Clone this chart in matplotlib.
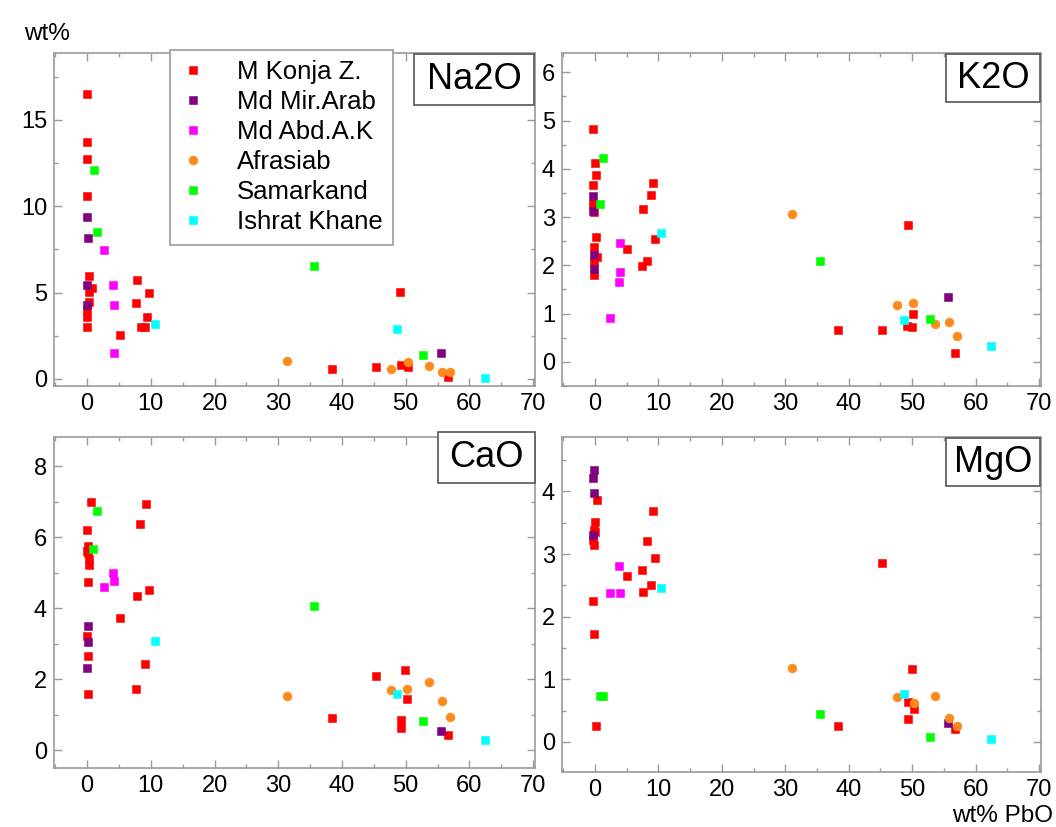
import matplotlib
matplotlib.use('Agg')
import matplotlib.pyplot as plt
from matplotlib.patches import Rectangle
from matplotlib.ticker import MultipleLocator

plt.rcParams['font.family'] = ['Liberation Sans', 'DejaVu Sans']

series = ['M Konja Z.', 'Md Mir.Arab', 'Md Abd.A.K', 'Afrasiab', 'Samarkand', 'Ishrat Khane']
colors = ['#ff0000', '#800080', '#ff00ff', '#ff8a1c', '#00ff00', '#00ffff']
markers = ['s', 's', 's', 'o', 's', 's']

# (wt% PbO, wt% oxide)
na2o_konja = [(0, 16.5), (0, 13.7), (0, 12.74), (0, 10.58), (0.37, 5.95), (0.69, 5.25), (0.3, 5.02),
              (0.3, 4.48), (7.85, 5.73), (9.64, 4.98), (7.7, 4.42), (0, 4.0), (0, 3.61), (9.32, 3.57),
              (8.38, 2.99), (9.1, 3.03), (0, 2.99), (5.18, 2.53), (38.4, 0.6), (45.3, 0.71),
              (49.2, 0.81), (50.3, 0.71), (56.7, 0.13), (49.1, 5.04)]
na2o_mirarab = [(0, 9.38), (0.16, 8.15), (0, 5.42), (0, 4.28), (55.5, 1.52)]
na2o_abd = [(2.67, 7.45), (4.08, 5.42), (4.24, 4.28), (4.14, 1.5)]
na2o_afrasiab = [(31.3, 1.06), (47.7, 0.6), (50.3, 0.97), (53.6, 0.77), (55.7, 0.41), (57.0, 0.41)]
na2o_samarkand = [(1.05, 12.12), (1.52, 8.53), (35.6, 6.54), (52.7, 1.37)]
na2o_ishrat = [(10.68, 3.18), (48.6, 2.91), (62.4, 0.06)]

k2o_konja = [(-0.27, 4.83), (0.05, 4.13), (0.1, 3.87), (-0.27, 3.66), (9.1, 3.70), (8.83, 3.46),
             (-0.27, 3.28), (-0.1, 3.1), (7.62, 3.17), (0.16, 2.59), (9.46, 2.54), (5.0, 2.33),
             (-0.1, 2.37), (0.36, 2.17), (-0.1, 2.06), (8.15, 2.1), (7.46, 1.99), (-0.1, 1.81),
             (49.26, 2.83), (50.2, 0.99), (49.16, 0.75), (49.95, 0.73), (38.28, 0.67), (45.27, 0.67),
             (56.78, 0.19)]
k2o_mirarab = [(-0.27, 3.44), (-0.27, 3.13), (-0.1, 2.21), (-0.2, 1.93), (55.63, 1.35)]
k2o_abd = [(3.94, 2.46), (3.99, 1.86), (3.83, 1.66), (2.37, 0.9)]
k2o_afrasiab = [(31.12, 3.06), (47.68, 1.18), (50.2, 1.21), (53.52, 0.79), (55.79, 0.83), (57.1, 0.54)]
k2o_samarkand = [(1.26, 4.22), (0.79, 3.28), (35.49, 2.1), (52.73, 0.88)]
k2o_ishrat = [(10.46, 2.67), (48.63, 0.86), (62.41, 0.32)]

cao_konja = [(0.53, 7.0), (9.26, 6.93), (8.32, 6.37), (0, 6.22), (0.1, 5.77), (0, 5.61), (0.2, 5.55),
             (0.3, 5.39), (0.3, 5.23), (0.2, 4.75), (9.64, 4.52), (7.8, 4.34), (5.18, 3.74), (0, 3.22),
             (0.1, 2.66), (9.06, 2.42), (7.65, 1.73), (0.1, 1.59), (38.4, 0.92), (45.3, 2.09),
             (49.9, 2.26), (50.2, 1.45), (49.2, 0.85), (49.2, 0.64), (56.7, 0.42)]
cao_mirarab = [(0.1, 3.51), (0.1, 3.06), (0, 2.31), (55.5, 0.55)]
cao_abd = [(4.08, 5.0), (4.24, 4.77), (2.62, 4.61)]
cao_afrasiab = [(31.3, 1.53), (47.7, 1.69), (50.2, 1.74), (53.6, 1.92), (55.7, 1.39), (57.0, 0.93)]
cao_samarkand = [(1.52, 6.75), (1.0, 5.68), (35.6, 4.07), (52.7, 0.82)]
cao_ishrat = [(10.68, 3.09), (48.6, 1.58), (62.4, 0.3)]

mgo_konja = [(0.3, 3.87), (9.1, 3.69), (0.05, 3.51), (-0.2, 3.38), (0.05, 3.35), (-0.27, 3.22),
             (-0.1, 3.15), (8.15, 3.21), (9.46, 2.94), (7.46, 2.74), (5.0, 2.65), (8.83, 2.51),
             (7.62, 2.39), (-0.27, 2.25), (-0.16, 1.72), (0.1, 0.25), (45.27, 2.85), (38.28, 0.25),
             (50.0, 1.16), (49.26, 0.63), (50.27, 0.53), (49.26, 0.37), (56.78, 0.2)]
mgo_mirarab = [(-0.1, 4.35), (-0.27, 4.21), (-0.1, 3.98), (-0.27, 3.31), (55.57, 0.30)]
mgo_abd = [(3.83, 2.81), (2.37, 2.38), (3.99, 2.38)]
mgo_afrasiab = [(31.1, 1.18), (47.68, 0.72), (50.27, 0.62), (53.58, 0.73), (55.84, 0.39), (57.1, 0.26)]
mgo_samarkand = [(0.79, 0.74), (1.31, 0.73), (35.49, 0.45), (52.79, 0.08)]
mgo_ishrat = [(10.46, 2.46), (48.63, 0.77), (62.41, 0.05)]

W, H = 1056, 827
fig = plt.figure(figsize=(W / 100, H / 100), dpi=100)
fig.patch.set_facecolor('white')

gray = '#9a9a9a'


def px_rect(l, t, r, b):
    return [l / W, 1 - b / H, (r - l) / W, (b - t) / H]


def panel(rect, data, ylim, ymaj, ymin, label, box):
    ax = fig.add_axes(rect)
    for name, pts, c, m in zip(series, data, colors, markers):
        xs = [p[0] for p in pts]
        ys = [p[1] for p in pts]
        ax.plot(xs, ys, ls='none', marker=m, ms=5.4 if m == 's' else 6.4,
                color=c, mec=c, mew=0.4, label=name)
    ax.set_xlim(-5.2, 70.3)
    ax.set_ylim(*ylim)
    ax.xaxis.set_major_locator(MultipleLocator(10))
    ax.xaxis.set_minor_locator(MultipleLocator(5))
    ax.yaxis.set_major_locator(MultipleLocator(ymaj))
    ax.yaxis.set_minor_locator(MultipleLocator(ymin))
    ax.tick_params(which='both', direction='in', top=True, right=True, color=gray, width=1)
    ax.tick_params(which='major', length=5.5, labelsize=17, pad=5)
    ax.tick_params(which='minor', length=3)
    for s in ax.spines.values():
        s.set_color(gray)
        s.set_linewidth(1.2)
    # label box, given in pixels of the figure
    l, t, r, b = box
    fig.patches.append(Rectangle((l / W, 1 - b / H), (r - l) / W, (b - t) / H,
                                 transform=fig.transFigure, facecolor='white',
                                 edgecolor='#555555', lw=1.2, zorder=5))
    fig.text((l + r) / 2 / W, 1 - (t + b) / 2 / H, label, fontsize=26,
             ha='center', va='center', zorder=6)
    return ax


ax1 = panel(px_rect(54, 53, 535, 386),
            [na2o_konja, na2o_mirarab, na2o_abd, na2o_afrasiab, na2o_samarkand, na2o_ishrat],
            (-0.41, 18.88), 5, 2.5, 'Na2O', (414, 54, 534, 105))
ax2 = panel(px_rect(562, 53, 1041, 386),
            [k2o_konja, k2o_mirarab, k2o_abd, k2o_afrasiab, k2o_samarkand, k2o_ishrat],
            (-0.5, 6.4), 1, 0.5, 'K2O', (946, 54, 1040, 102))
ax3 = panel(px_rect(54, 437, 535, 768),
            [cao_konja, cao_mirarab, cao_abd, cao_afrasiab, cao_samarkand, cao_ishrat],
            (-0.5, 8.83), 2, 1, 'CaO', (438, 432, 535, 483))
ax4 = panel(px_rect(562, 437, 1041, 772),
            [mgo_konja, mgo_mirarab, mgo_abd, mgo_afrasiab, mgo_samarkand, mgo_ishrat],
            (-0.48, 4.87), 1, 0.5, 'MgO', (946, 438, 1040, 486))

leg = ax1.legend(loc='upper left', bbox_to_anchor=(0.241, 1.009), fontsize=18.5,
                 frameon=True, fancybox=False, edgecolor=gray, framealpha=1,
                 handlelength=1.0, handletextpad=1.2, labelspacing=0.235,
                 borderpad=0.4, borderaxespad=0, markerscale=1.0)
leg.get_frame().set_linewidth(1.2)
leg.set_zorder(10)

fig.text(47 / W, 1 - 34 / H, 'wt%', fontsize=17.5, ha='center', va='center')
fig.text(1053 / W, 1 - 816 / H, 'wt% PbO', fontsize=17.5, ha='right', va='center')

fig.savefig('out.png', dpi=100, facecolor='white')
